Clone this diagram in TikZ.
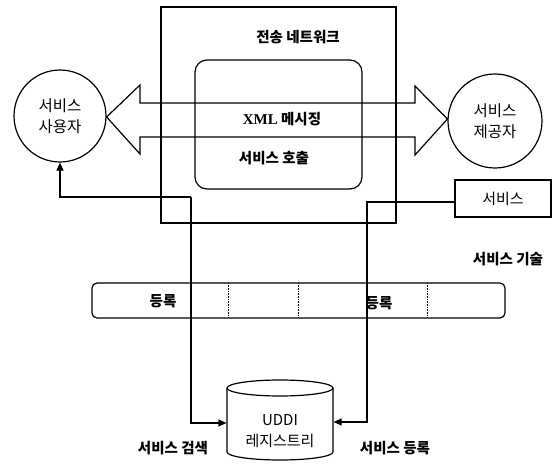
\documentclass[tikz,border=0pt]{standalone}
\usepackage{fontspec}
\newfontfamily\kr{Noto Sans CJK KR}
\newfontfamily\xmlfont{Liberation Serif}
\usetikzlibrary{arrows.meta}
\begin{document}
\begin{tikzpicture}[x=1pt,y=-1pt,
  line width=1.2pt,
  lbl/.style={font=\kr\fontsize{15}{17}\selectfont, inner sep=0pt},
  blbl/.style={font=\kr\bfseries\fontsize{14.5}{17}\selectfont, inner sep=0pt},
  actor/.style={circle, draw, font=\kr\fontsize{15.5}{21}\selectfont, align=center, inner sep=0pt},
  tip/.style={-{Triangle[length=8pt,width=7pt]}},
  divider/.style={line width=0.6pt, densely dotted}]
\useasboundingbox (0,0) rectangle (553,468);

% transport network frame and message area
\draw (161,7) rectangle (396,223);
\draw[rounded corners=12pt] (195,60) rectangle (362,189);
\node[blbl] (net) at (298,37) {전송 네트워크};
\node[blbl] (xml) at (282,119) {{\xmlfont\bfseries\fontsize{15}{17}\selectfont XML} 메시징};
\node[blbl] (call) at (274,158) {서비스 호출};

% requester and provider
\node[actor, minimum size=92pt] (user) at (60,116) {서비스\\사용자};
\node[actor, minimum size=94pt] (prov) at (495,121) {서비스\\제공자};

% two-headed message arrow between the actors
\draw (user.east |- 0,117) -- (140,85) -- (140,103) -- (415,103) -- (415,86)
  -- (prov.west |- 0,119) -- (415,155) -- (415,137) -- (140,137) -- (140,154) -- cycle;

% service description
\node[draw, lbl, minimum width=96pt, minimum height=37pt] (svc) at (503,198.5) {서비스};
\node[blbl] (desc) at (508,259) {서비스 기술};

% registration bar
\draw[rounded corners=5pt] (92,283) rectangle (505,318);
\draw[divider] (228,283) -- (228,318);
\draw[divider] (298,283) -- (298,318);
\draw[divider] (427,283) -- (427,318);
\node[blbl] (reg1) at (163,301) {등록};
\node[blbl] (reg2) at (379,303) {등록};

% UDDI registry cylinder
\node[minimum width=106pt, minimum height=80pt, inner sep=0pt] (uddi) at (280,420) {};
\draw (227,388) -- (227,452) arc[start angle=180, end angle=360, x radius=53pt, y radius=8pt] -- (333,388);
\draw (280,388) ellipse [x radius=53pt, y radius=8pt];
\node[lbl] (uddit) at (280,420) {UDDI};
\node[lbl] (regt) at (280,441) {레지스트리};

% find and publish connectors
\coordinate (f1) at (191,197);
\coordinate (p1) at (367,202);
\draw[tip] (f1) -- (f1 -| user.south) -- (user.south);
\draw[tip] (f1) -- (f1 |- 0,423) -- (uddi.west |- 0,423);
\draw[tip] (svc.west |- p1) -- (p1) -- (p1 |- 0,422) -- (uddi.east |- 0,422);
\node[blbl] (find) at (173,448) {서비스 검색};
\node[blbl] (pub) at (395,448) {서비스 등록};
\end{tikzpicture}
\end{document}
